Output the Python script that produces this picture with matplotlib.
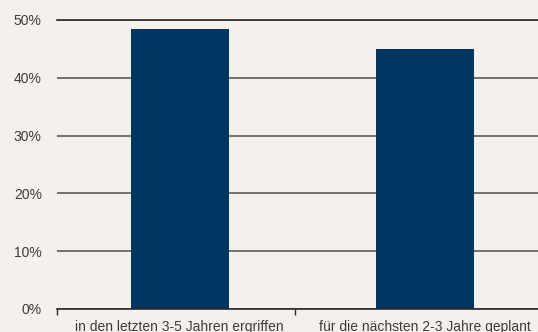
import numpy as np
import matplotlib.pyplot as plt
from matplotlib.ticker import FixedLocator

plt.rcParams['font.family'] = ['Liberation Sans', 'DejaVu Sans']

# Daten
categories = ["in den letzten 3-5 Jahren ergriffen", "für die nächsten 2-3 Jahre geplant"]
values = [48.4, 45.0]
yticks = [0, 10, 20, 30, 40, 50]

bg = '#f4f0ec'
fig = plt.figure(figsize=(5.38, 3.32), dpi=100, facecolor=bg)
ax = fig.add_axes([0.106, 0.0693, 0.894, 0.8705], facecolor=bg)

x = np.arange(len(categories))
ax.set_ylim(0, 50)
ax.set_xlim(-0.5, 1.46)
ax.set_yticks(yticks)
ax.set_yticklabels([f"{t}%" for t in yticks])
ax.yaxis.grid(True, color='#5f5b59', linewidth=1.2)
ax.set_axisbelow(True)

ax.bar(x, values, width=0.4, color='#003560', zorder=3)

# oberste Linie dunkler
ax.axhline(50, color='#2a2a2a', linewidth=1.2, zorder=2, clip_on=False)
ax.axhline(0, color='#2a2a2a', linewidth=1.2, zorder=4, clip_on=False)

ax.set_xticks(x)
ax.set_xticklabels(categories)
ax.xaxis.set_minor_locator(FixedLocator([-0.5, 0.47]))
ax.tick_params(axis='x', which='major', length=0, pad=8, labelsize=10, labelcolor='#3c3c3c')
ax.tick_params(axis='x', which='minor', length=4, width=1, color='#2a2a2a')
ax.tick_params(axis='y', length=0, pad=11, labelsize=10, labelcolor='#3c3c3c')

for s in ax.spines.values():
    s.set_visible(False)

fig.savefig('out.png', dpi=100, facecolor=bg)
